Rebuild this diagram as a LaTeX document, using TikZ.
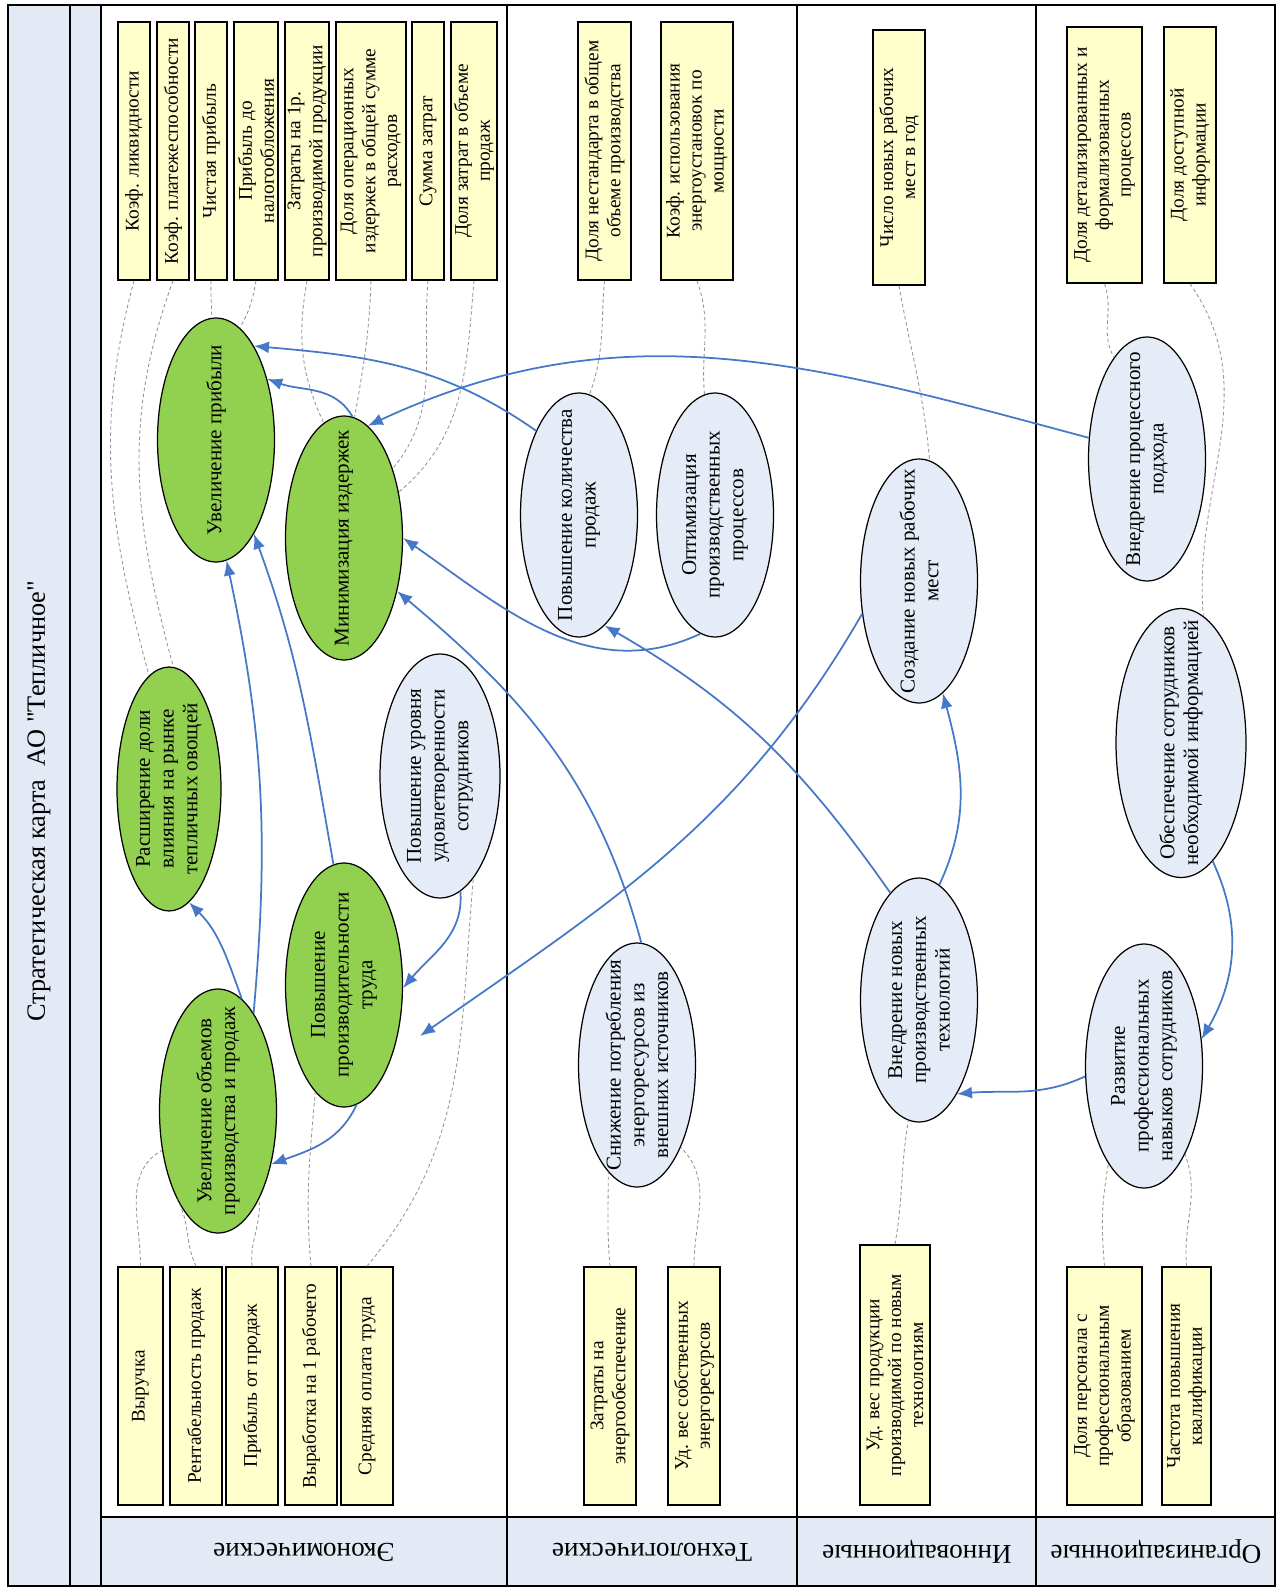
\documentclass[tikz,border=0pt]{standalone}
\usepackage{fontspec}
\setmainfont{Liberation Serif}[Ligatures=TeXOff]
\usetikzlibrary{shapes.geometric,arrows.meta,fit}
\definecolor{hdr}{RGB}{228,234,245}
\definecolor{kpiy}{RGB}{255,255,204}
\definecolor{goalg}{RGB}{146,208,80}
\definecolor{taskb}{RGB}{230,236,247}
\definecolor{flowb}{RGB}{70,120,200}
\definecolor{linkg}{RGB}{150,150,150}
\begin{document}
\begin{tikzpicture}[x=0.02cm,y=-0.02cm,
 kpi/.style={draw,line width=.9pt,fill=kpiy,inner sep=0pt},
 kt/.style={rotate=90,align=center,inner sep=0pt,font=\fontsize{11}{12.5}\selectfont},
 et/.style={kt,font=\fontsize{12}{13.5}\selectfont},
 el/.style={draw,ellipse,line width=.7pt,inner sep=0pt,minimum width=2.34cm,minimum height=4.88cm},
 goal/.style={el,fill=goalg},
 task/.style={el,fill=taskb},
 lane/.style={rotate=180,font=\fontsize{15.5}{17}\selectfont},
 link/.style={draw=linkg,dash pattern=on 2pt off 1.5pt,line width=.5pt},
 flow/.style={draw=flowb,line width=1pt,-{Latex[length=3mm,width=2.4mm]}},
 ]
\useasboundingbox (0,0) rectangle (1280,1591);
%Rahmen
\fill[hdr] (8,5) rectangle (101,1586) (101,1517) rectangle (1275,1586);
\draw[line width=.8pt] (70,5) -- (70,1586) (101,5) -- (101,1586) (101,1517) -- (1275,1517);
\foreach \x in {507,797,1036}
  \draw[line width=.8pt] (\x,5) -- (\x,1586);
\draw[line width=1.2pt] (8,5) rectangle (1275,1586);

\node[rotate=90,font=\fontsize{15}{17}\selectfont] (title) at (39,801) {Стратегическая карта\ \ АО "Тепличное"};
\foreach \nm/\x/\tx in {econ/304/Экономические,tech/652/Технологические,innov/917/Инновационные,org/1156/Организационные}
  \node[lane] (\nm) at (\x,1552) {\tx};

%Kennzahlen
\foreach \nm/\xa/\ya/\xb/\yb/\tx in {
  k1/118/22/150/280/{Коэф. ликвидности},
  k2/157/22/189/280/{Коэф. платежеспособности},
  k3/195/22/227/280/{Чистая прибыль},
  k4/234/22/278/280/{Прибыль до\\налогообложения},
  k5/285/22/329/280/{Затраты на 1р.\\производимой продукции},
  k6/336/22/406/280/{Доля операционных\\издержек в общей сумме\\расходов},
  k7/412/22/444/280/{Сумма затрат},
  k8/451/22/497/280/{Доля затрат в объеме\\продаж},
  t1/578/22/631/280/{Доля нестандарта в общем\\объеме производства},
  t2/661/22/733/280/{Коэф. использования\\энергоустановок по\\мощности},
  i1/873/30/925/285/{Число новых рабочих\\мест в год},
  o1/1067/27/1142/283/{Доля детализированных и\\формализованных\\процессов},
  o2/1164/27/1216/283/{Доля доступной\\информации},
  b1/118/1267/163/1505/{Выручка},
  b2/170/1267/222/1505/{Рентабельность продаж},
  b3/226/1267/278/1505/{Прибыль от продаж},
  b4/285/1267/337/1505/{Выработка на 1 рабочего},
  b5/341/1267/393/1505/{Средняя оплата труда},
  t3/584/1267/636/1505/{Затраты на\\энергообеспечение},
  t4/668/1267/720/1505/{Уд. вес собственных\\энергоресурсов},
  i2/860/1245/930/1505/{Уд. вес продукции\\производимой по новым\\технологиям},
  o3/1067/1267/1142/1505/{Доля персонала с\\профессиональным\\образованием},
  o4/1162/1267/1211/1505/{Частота повышения\\квалификации}}
  \node[kpi,fit={(\xa,\ya) (\xb,\yb)},label={[kt]center:{\tx}}] (\nm) {};

%Ziele
\node[goal,label={[et]center:{Увеличение прибыли}}] (profit) at (216,440) {};
\node[goal,label={[et]center:{Минимизация издержек}}] (cost) at (344,538) {};
\node[goal,minimum width=2.08cm,label={[et]center:{Расширение доли\\влияния на рынке\\тепличных овощей}}] (share) at (169,789) {};
\node[task,minimum width=2.4cm,label={[et]center:{Повышение уровня\\удовлетворенности\\сотрудников}}] (satisf) at (440,776) {};
\node[goal,label={[et]center:{Повышение\\производительности\\труда}}] (labour) at (344,985) {};
\node[goal,label={[et]center:{Увеличение объемов\\производства и продаж}}] (volume) at (218,1111) {};
\node[task,label={[et]center:{Повышение количества\\продаж}}] (sales) at (579,515) {};
\node[task,label={[et]center:{Оптимизация\\производственных\\процессов}}] (optim) at (715,515) {};
\node[task,label={[et]center:{Снижение потребления\\энергоресурсов из\\внешних источников}}] (energy) at (637,1065) {};
\node[task,label={[et]center:{Создание новых рабочих\\мест}}] (jobs) at (919,581) {};
\node[task,label={[et]center:{Внедрение новых\\производственных\\технологий}}] (newtech) at (919,1000) {};
\node[task,label={[et]center:{Внедрение процессного\\подхода}}] (process) at (1147,459) {};
\node[task,minimum width=2.6cm,minimum height=5.38cm,label={[et]center:{Обеспечение сотрудников\\необходимой информацией}}] (info) at (1181,743) {};
\node[task,label={[et]center:{Развитие\\профессиональных\\навыков сотрудников}}] (skills) at (1144,1066) {};

\foreach \va/\vb/\vo/\vi in {
  k1.south/share.100/-105/105, k2.south/share.88/-110/105,
  k3.south/profit.92/-92/90, k4.south/profit.78/-100/60,
  k5.south/cost.100/-100/115, k6.south/cost.85/-92/80,
  k7.south/cost.55/-95/50, k8.south/cost.40/-95/40,
  t1.south/sales.85/-95/70, t2.south/optim.95/-70/95,
  i1.south/jobs.85/-80/95, o1.south/process.108/-70/120,
  o2.south/info.80/-55/95,
  b1.north/volume.215/90/210, b2.north/volume.245/115/-60,
  b3.north/volume.-65/95/-85, b4.north/labour.-105/95/-95,
  b5.north/satisf.-72/50/-95,
  t3.north/energy.-105/95/-90, t4.north/energy.-62/90/-45,
  i2.north/newtech.-95/80/-100,
  o3.north/skills.-110/95/-100, o4.north/skills.-65/95/-70}
  \draw[link] (\va) to[out=\vo,in=\vi] (\vb);

\coordinate (jend) at (420,1036);
\draw[flow] (sales.117) to[out=145,in=-5] (profit.68);
\draw[flow] (cost.86) to[out=120,in=-20] (profit.50);
\draw[flow] (process.160) to[out=165,in=25] (cost.78);
\draw[flow] (volume.70) to[out=85,in=-78] (profit.-85);
\draw[flow] (labour.95) to[out=100,in=-70] (profit.-68);
\draw[flow] (energy.88) to[out=105,in=-40] (cost.-45);
\draw[flow] (optim.-97) to[out=205,in=-35] (cost.0);
\draw[flow] (newtech.105) to[out=125,in=-30] (sales.-77);
\draw[flow] (newtech.80) to[out=65,in=-75] (jobs.-78);
\draw[flow] (jobs.-150) to[out=240,in=35] (jend);
\draw[flow] (satisf.-80) to[out=-85,in=50] (labour.-3);
\draw[flow] (labour.-84) to[out=245,in=20] (volume.-45);
\draw[flow] (volume.78) to[out=110,in=-45] (share.-80);
\draw[flow] (info.-75) to[out=-65,in=60] (skills.25);
\draw[flow] (skills.190) to[out=205,in=5] (newtech.-68);
\end{tikzpicture}
\end{document}
